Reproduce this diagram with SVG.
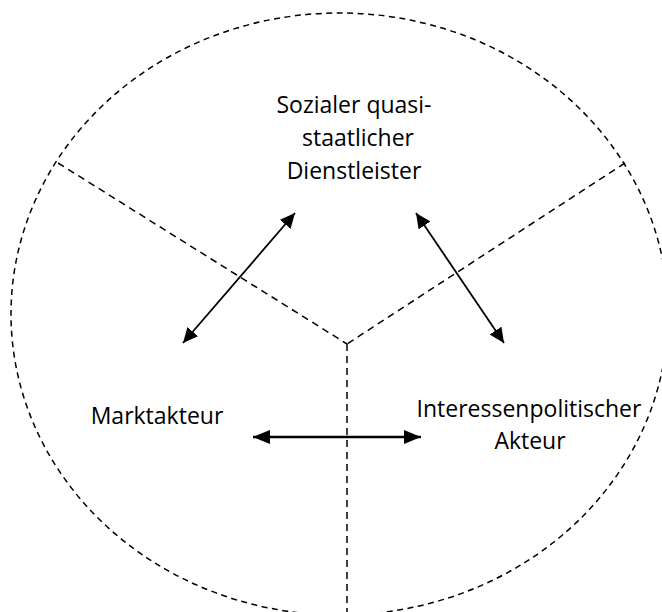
<svg xmlns="http://www.w3.org/2000/svg" width="662" height="612" viewBox="0 0 662 612">
<defs>
<marker id="ah" markerUnits="userSpaceOnUse" markerWidth="16" markerHeight="14" viewBox="0 0 16 14" refX="15" refY="7" orient="auto-start-reverse"><path d="M0,0 L15,7 L0,14 Z" fill="#000"/></marker>
<marker id="ahb" markerUnits="userSpaceOnUse" markerWidth="18" markerHeight="14" viewBox="0 0 18 14" refX="17" refY="7" orient="auto-start-reverse"><path d="M0,0 L17,7 L0,14 Z" fill="#000"/></marker>
</defs>
<style>
.dash{fill:none;stroke:#000;stroke-width:1.5;stroke-dasharray:6 4.5}
.div{fill:none;stroke:#000;stroke-width:1.5;stroke-dasharray:7 5}
.arr{stroke:#000;stroke-width:1.8;fill:none;marker-start:url(#ah);marker-end:url(#ah)}
.arrb{stroke:#000;stroke-width:2.5;fill:none;marker-start:url(#ahb);marker-end:url(#ahb)}
text{font-family:"Open Sans","Liberation Sans",sans-serif;font-size:23px;fill:#000;text-anchor:middle}
</style>
<rect width="662" height="612" fill="#fff"/>
<g id="boundary">
<ellipse class="dash" cx="339.5" cy="314" rx="328.5" ry="301"/>
<line class="div" x1="58" y1="163" x2="347" y2="344"/>
<line class="div" x1="625" y1="163" x2="347" y2="344"/>
<line class="div" x1="347" y1="344" x2="347" y2="612"/>
</g>
<g id="dienstleister">
<text x="354" y="113">Sozialer quasi-</text>
<text x="358" y="146">staatlicher</text>
<text x="354" y="179">Dienstleister</text>
</g>
<g id="marktakteur">
<text x="157" y="424">Marktakteur</text>
</g>
<g id="interessen">
<text x="529" y="417">Interessenpolitischer</text>
<text x="530" y="449">Akteur</text>
</g>
<g id="connectors">
<line class="arr" x1="183" y1="343" x2="295" y2="213"/>
<line class="arr" x1="416" y1="213" x2="504" y2="343"/>
<line class="arrb" x1="253" y1="437" x2="421" y2="437"/>
</g>
</svg>
